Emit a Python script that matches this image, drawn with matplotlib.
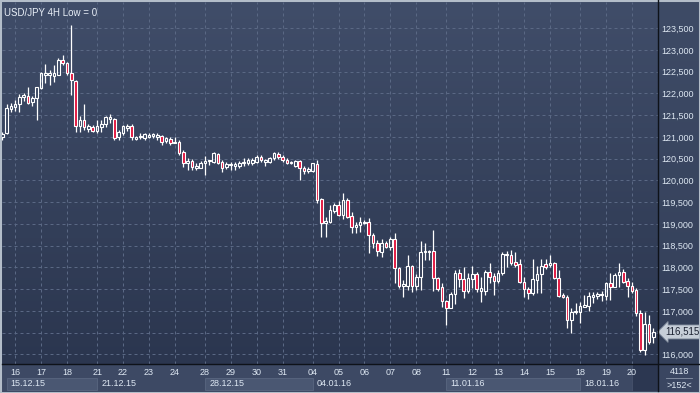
import numpy as np
import matplotlib.pyplot as plt
from matplotlib.colors import LinearSegmentedColormap
from matplotlib.patches import Rectangle
from matplotlib.lines import Line2D
from matplotlib.ticker import FuncFormatter

plt.rcParams['font.family'] = ['Liberation Sans', 'DejaVu Sans']

# USD/JPY 4H candles, 15.12.15 - 20.01.16
opens = [121.00, 121.08, 121.64, 121.70, 121.76, 121.91, 121.94, 121.80, 121.89, 122.12,
         122.43, 122.43, 122.40, 122.43, 122.77, 122.71, 122.46, 122.29, 121.25, 121.39,
         121.18, 121.24, 121.14, 121.24, 121.30, 121.41, 121.42, 120.99, 121.10, 121.21,
         121.25, 120.95, 121.00, 120.97, 121.01, 121.02, 120.99, 121.02, 120.91, 120.95,
         120.85, 120.89, 120.65, 120.39, 120.45, 120.29, 120.29, 120.39, 120.45, 120.43,
         120.61, 120.43, 120.31, 120.35, 120.34, 120.34, 120.39, 120.39, 120.41, 120.43,
         120.53, 120.43, 120.42, 120.51, 120.61, 120.55, 120.47, 120.39, 120.34, 120.45,
         120.29, 120.22, 120.22, 120.38, 119.57, 119.01, 119.05, 119.30, 119.44, 119.21,
         119.55, 119.18, 118.92, 118.98, 119.01, 119.04, 118.75, 118.57, 118.36, 118.57,
         118.48, 118.65, 117.98, 117.57, 117.57, 118.03, 117.57, 117.77, 118.35, 118.36,
         118.38, 117.75, 117.54, 117.23, 117.06, 117.38, 117.86, 117.73, 117.46, 117.73,
         117.84, 117.46, 117.46, 117.89, 117.80, 117.69, 117.86, 118.28, 118.29, 118.12,
         118.07, 117.67, 117.50, 117.40, 117.71, 117.85, 118.08, 118.05, 118.09, 117.75,
         117.36, 117.31, 116.79, 116.97, 116.98, 117.10, 117.11, 117.33, 117.34, 117.36,
         117.34, 117.63, 117.56, 117.83, 117.90, 117.69, 117.57, 117.48, 116.96, 116.10,
         116.70, 116.39]
highs = [121.12, 121.76, 121.79, 121.85, 121.99, 122.00, 122.14, 121.94, 122.16, 122.49,
         122.68, 122.54, 122.66, 122.82, 122.89, 122.72, 123.58, 122.31, 121.48, 121.76,
         121.30, 121.28, 121.39, 121.39, 121.48, 121.53, 121.44, 121.16, 121.28, 121.30,
         121.30, 121.03, 121.09, 121.10, 121.08, 121.10, 121.08, 121.05, 121.01, 121.01,
         120.99, 120.93, 120.70, 120.51, 120.50, 120.39, 120.45, 120.56, 120.48, 120.65,
         120.62, 120.47, 120.43, 120.43, 120.42, 120.45, 120.52, 120.52, 120.51, 120.59,
         120.58, 120.50, 120.53, 120.66, 120.65, 120.59, 120.51, 120.45, 120.47, 120.47,
         120.33, 120.32, 120.41, 120.47, 119.60, 119.17, 119.44, 119.49, 119.53, 119.70,
         119.60, 119.28, 119.05, 119.17, 119.09, 119.13, 118.78, 118.63, 118.65, 118.61,
         118.71, 118.78, 118.02, 117.71, 118.29, 118.06, 117.85, 118.61, 118.55, 118.40,
         118.86, 117.79, 117.63, 117.25, 117.43, 117.94, 117.96, 118.02, 117.86, 118.03,
         117.90, 117.79, 117.94, 118.09, 117.86, 117.94, 118.36, 118.38, 118.40, 118.36,
         118.19, 117.79, 117.56, 118.19, 118.03, 118.19, 118.19, 118.29, 118.13, 117.94,
         117.40, 117.37, 117.06, 117.17, 117.21, 117.37, 117.44, 117.44, 117.44, 117.46,
         117.67, 117.86, 117.86, 118.11, 117.96, 117.75, 117.67, 117.52, 117.02, 116.98,
         116.91, 116.60]
lows = [120.93, 121.07, 121.58, 121.60, 121.58, 121.83, 121.76, 121.71, 121.39, 122.10,
        122.23, 122.20, 122.27, 122.42, 122.66, 122.43, 121.97, 121.12, 121.12, 121.16,
        121.11, 121.11, 121.08, 121.12, 121.24, 121.31, 120.93, 120.93, 121.05, 121.14,
        120.93, 120.92, 120.95, 120.93, 120.97, 120.97, 120.93, 120.82, 120.87, 120.82,
        120.85, 120.59, 120.32, 120.24, 120.24, 120.24, 120.28, 120.13, 120.36, 120.39,
        120.37, 120.20, 120.26, 120.24, 120.24, 120.29, 120.34, 120.36, 120.36, 120.41,
        120.42, 120.34, 120.39, 120.47, 120.49, 120.43, 120.38, 120.37, 120.32, 120.01,
        120.15, 120.18, 120.20, 119.47, 118.71, 118.71, 119.01, 119.24, 119.18, 119.11,
        119.14, 118.78, 118.80, 118.82, 118.99, 118.34, 118.44, 118.26, 118.25, 118.44,
        118.40, 117.65, 117.53, 117.33, 117.48, 117.44, 117.48, 117.48, 118.17, 118.17,
        117.46, 117.46, 117.09, 116.68, 117.06, 117.16, 117.54, 117.29, 117.42, 117.52,
        117.44, 117.21, 117.37, 117.63, 117.37, 117.63, 117.83, 118.02, 118.06, 118.02,
        117.65, 117.31, 117.27, 117.37, 117.42, 117.42, 117.96, 118.00, 117.73, 117.31,
        117.29, 116.60, 116.50, 116.93, 116.71, 117.08, 117.00, 117.17, 117.27, 117.23,
        117.25, 117.25, 117.54, 117.56, 117.63, 117.31, 117.40, 116.88, 116.06, 115.99,
        116.24, 116.25]
closes = [121.07, 121.66, 121.71, 121.76, 121.93, 121.96, 121.77, 121.89, 122.16, 122.46,
          122.48, 122.46, 122.46, 122.77, 122.71, 122.46, 122.31, 121.25, 121.39, 121.22,
          121.25, 121.14, 121.25, 121.29, 121.45, 121.47, 120.97, 121.11, 121.25, 121.25,
          120.99, 120.99, 121.03, 121.06, 121.05, 121.06, 121.05, 120.89, 120.97, 120.85,
          120.89, 120.62, 120.39, 120.45, 120.32, 120.34, 120.41, 120.45, 120.47, 120.62,
          120.41, 120.29, 120.37, 120.37, 120.37, 120.41, 120.42, 120.47, 120.47, 120.55,
          120.47, 120.47, 120.51, 120.62, 120.53, 120.47, 120.39, 120.42, 120.45, 120.28,
          120.22, 120.27, 120.39, 119.55, 119.01, 119.07, 119.32, 119.44, 119.21, 119.55,
          119.17, 118.92, 118.98, 119.04, 119.04, 118.75, 118.55, 118.38, 118.57, 118.48,
          118.65, 117.98, 117.57, 117.62, 118.03, 117.57, 117.77, 118.36, 118.38, 118.38,
          117.75, 117.50, 117.23, 117.06, 117.38, 117.86, 117.73, 117.46, 117.76, 117.84,
          117.50, 117.52, 117.90, 117.79, 117.69, 117.86, 118.31, 118.31, 118.11, 118.06,
          117.67, 117.50, 117.40, 117.73, 117.85, 118.03, 118.02, 118.11, 117.75, 117.34,
          117.31, 116.79, 116.97, 117.00, 117.11, 117.14, 117.34, 117.37, 117.38, 117.39,
          117.65, 117.56, 117.83, 117.90, 117.67, 117.57, 117.46, 116.96, 116.10, 116.70,
          116.29, 116.515]

day_labels = ['16', '17', '18', '21', '22', '23', '24', '28', '29', '30', '31', '04',
              '05', '06', '07', '08', '11', '12', '13', '14', '15', '18', '19', '20']
day_starts = [3, 9, 15, 22, 28, 34, 40, 47, 53, 59, 65, 72,
              78, 84, 90, 96, 103, 109, 115, 121, 127, 134, 140, 146]
week_labels = ['15.12.15', '21.12.15', '28.12.15', '04.01.16', '11.01.16', '18.01.16']
week_starts = [1, 22, 47, 72, 103, 134]
price_ticks = [116.0, 116.5, 117.0, 117.5, 118.0, 118.5, 119.0, 119.5,
               120.0, 120.5, 121.0, 121.5, 122.0, 122.5, 123.0, 123.5]

W, H = 700, 393
TXT = '#dde7f2'
XMAX = 151.95
last = closes[-1]


def px(x0, y0, x1, y1):
    # pixel box -> figure fraction rect
    return [x0 / W, 1 - y1 / H, (x1 - x0) / W, (y1 - y0) / H]


def gradient(a, top, bottom):
    cm = LinearSegmentedColormap.from_list('g', [top, bottom])
    a.imshow(np.linspace(0, 1, 256).reshape(-1, 1), cmap=cm, aspect='auto',
             extent=[0, 1, 0, 1], transform=a.transAxes, zorder=0)


def price_fmt(v, _):
    # the last-price tag hides the label it sits on
    if abs(v - last) < 0.15:
        return ''
    return f'{v:.3f}'.replace('.', ',')


fig = plt.figure(figsize=(7, 3.93), dpi=100)
fig.patch.set_facecolor('#3a4661')

# right price panel background
side = fig.add_axes(px(658, 0, 700, 364))
gradient(side, '#3e4b66', '#333f59')
side.set_axis_off()

# main chart
ax = fig.add_axes(px(2, 2, 657.5, 364))
gradient(ax, '#404d69', '#2b364f')

o = np.array(opens)
h = np.array(highs)
l = np.array(lows)
c = np.array(closes)
x = np.arange(len(o))
up = c >= o
lo = np.minimum(o, c)
hi = np.maximum(o, c)

ax.vlines(x, hi, h, color='white', lw=0.9, zorder=3)
ax.vlines(x, l, lo, color='white', lw=0.9, zorder=3)
ax.bar(x[up], (hi - lo)[up], bottom=lo[up], width=0.62, facecolor='none',
       edgecolor='white', lw=0.8, zorder=4)
ax.bar(x[~up], (hi - lo)[~up], bottom=lo[~up], width=0.62, facecolor='#e2163f',
       edgecolor='white', lw=0.8, zorder=4)

ax.set_xlim(-0.05, XMAX)
ax.set_ylim(115.778, 124.104)
ax.set_xticks(day_starts)
ax.set_yticks(price_ticks)
ax.yaxis.tick_right()
ax.yaxis.set_major_formatter(FuncFormatter(price_fmt))
ax.tick_params(axis='y', length=0, pad=2.6, labelsize=6.5, labelcolor=TXT)
ax.tick_params(axis='x', length=0, labelbottom=False)
ax.grid(True, color='#5a6884', lw=0.72, ls=(0, (3, 3)), zorder=1)
for s in ax.spines.values():
    s.set_visible(False)

ax.text(0.003, 0.983, 'USD/JPY 4H Low = 0', transform=ax.transAxes, ha='left', va='top',
        fontsize=7, color='#e8eef6')

# last price tag
ax.annotate(f'{last:.3f}'.replace('.', ','), xy=(1, last),
            xycoords=('axes fraction', 'data'), xytext=(5.5, 0), textcoords='offset points',
            ha='left', va='center', fontsize=7, color='#1c2232', annotation_clip=False,
            bbox=dict(boxstyle='larrow,pad=0.2', fc='#c6ced8', ec='#8b96a6', lw=0.6))

# bottom date panel
axb = fig.add_axes(px(2, 364, 657.5, 391))
axb.set_facecolor('#3d4964')
axb.set_xlim(-0.05, XMAX)
axb.set_ylim(0, 1)
axb.set_xticks([])
axb.set_yticks([])
for s in axb.spines.values():
    s.set_visible(False)

for k, (lab, s0) in enumerate(zip(week_labels, week_starts)):
    s1 = week_starts[k + 1] if k + 1 < len(week_starts) else day_starts[-1]
    if k % 2 == 0:
        axb.add_patch(Rectangle((s0, 0.02), s1 - s0, 0.47, fc='#4a5772', ec='#56637d',
                                lw=0.7, zorder=1))
    axb.annotate(lab, (s0, 0.27), xytext=(3, 0), textcoords='offset points',
                 ha='left', va='center', fontsize=6.5, color=TXT, zorder=3)

axb.add_patch(Rectangle((day_starts[-1], 0), XMAX - day_starts[-1], 1, fc='#2c3751',
                        ec='#46526b', lw=0.6, zorder=2))
for lab, d in zip(day_labels, day_starts):
    axb.text(d, 0.68, lab, ha='center', va='center', fontsize=6.5, color=TXT, zorder=3)

# corner box
fig.text(679 / W, 1 - 372 / H, '4118', ha='center', va='center', fontsize=6.5, color=TXT)
fig.text(679 / W, 1 - 385 / H, '>152<', ha='center', va='center', fontsize=6.5, color=TXT)
fig.add_artist(Line2D([666 / W, 692 / W], [1 - 378 / H] * 2, color='#8994a8', lw=0.6))

# dark separators and outer frame
fig.add_artist(Line2D([658 / W] * 2, [1 - 391 / H, 1], color='#0e1219', lw=1.0))
fig.add_artist(Line2D([2 / W, 1], [1 - 364 / H] * 2, color='#0e1219', lw=1.0))
fig.add_artist(Rectangle((0, 0), 1, 1, transform=fig.transFigure, fill=False,
                         ec='#b3bdc9', lw=2.2))

fig.savefig('out.png', dpi=100, facecolor=fig.get_facecolor())
